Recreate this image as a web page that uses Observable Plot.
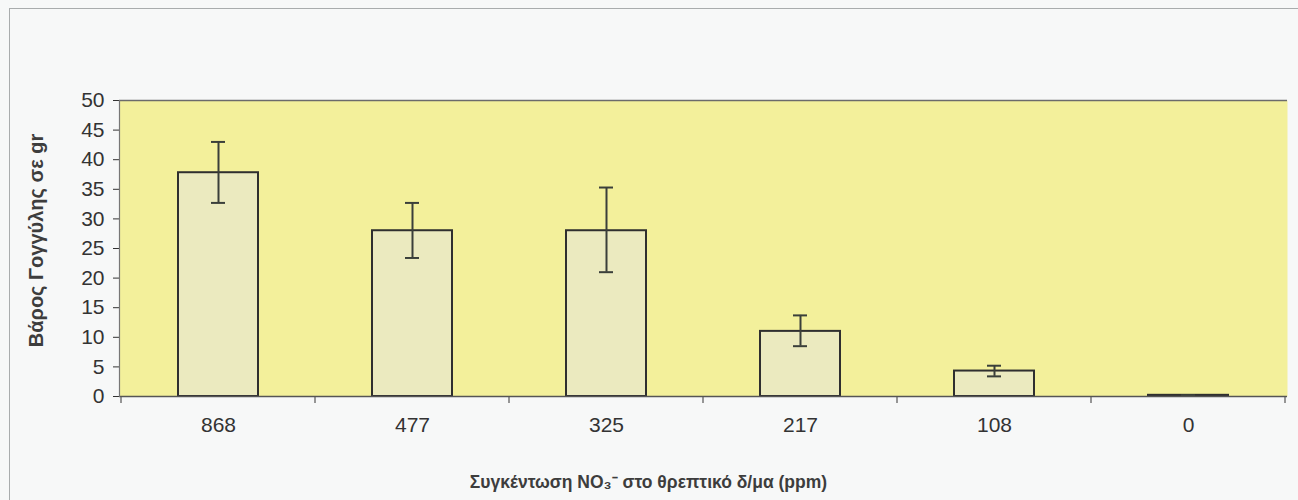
<!DOCTYPE html>
<html>
<head>
<meta charset="utf-8">
<script src="https://cdn.jsdelivr.net/npm/d3@7"></script>
<script src="https://cdn.jsdelivr.net/npm/@observablehq/plot@0.6"></script>
<style>
  html, body { margin: 0; padding: 0; background: #f7f8f8; }
  #wrap { position: relative; width: 1298px; height: 500px; overflow: hidden; }
  #edge { position: absolute; left: 9px; top: 8px; right: -2px; bottom: -2px;
          border-left: 1.5px solid #a9acad; border-top: 1.5px solid #a9acad; pointer-events: none; }
  #chart svg { display: block; }
</style>
</head>
<body>
<div id="wrap"><div id="chart"></div><div id="edge"></div></div>
<script>
// NO3 concentration in the nutrient solution (ppm)
const concentrations = ["868", "477", "325", "217", "108", "0"];
// mean bulb weight (g)
const meanWeight = [37.8, 28.0, 28.0, 11.0, 4.3, 0.2];
// error bar ends (g)
const lowerEnd = [32.7, 23.4, 21.0, 8.5, 3.4, 0.2];
const upperEnd = [43.0, 32.7, 35.3, 13.7, 5.2, 0.2];
// y-axis tick values
const yTicks = [0, 5, 10, 15, 20, 25, 30, 35, 40, 45, 50];

const yLabel = "Βάρος Γογγύλης σε gr";
const xLabel = "Συγκέντωση NO₃⁻ στο θρεπτικό δ/μα (ppm)";

const rows = concentrations.map((c, i) => ({
  c, mean: meanWeight[i], lo: lowerEnd[i], hi: upperEnd[i]
}));

// tick marks on the category axis sit between the categories
function boundaryTicks(index, scales, values, dimensions) {
  const x = scales.x;
  const bw = x.bandwidth ? x.bandwidth() : 0;
  const step = x(concentrations[1]) - x(concentrations[0]);
  const centers = concentrations.map(c => x(c) + bw / 2);
  const edges = centers.map(c => c - step / 2).concat([centers[centers.length - 1] + step / 2]);
  const y0 = dimensions.height - dimensions.marginBottom;
  const g = d3.create("svg:g").attr("stroke", "#555").attr("stroke-width", 1.2);
  g.selectAll("line").data(edges).join("line")
    .attr("x1", d => d).attr("x2", d => d)
    .attr("y1", y0).attr("y2", y0 + 7);
  return g.node();
}

const chart = Plot.plot({
  width: 1298,
  height: 500,
  marginTop: 100,
  marginBottom: 104,
  marginLeft: 119,
  marginRight: 11,
  style: {
    background: "transparent",
    fontFamily: "'Liberation Sans', Arial, sans-serif",
    fontSize: "21px",
    color: "#333"
  },
  x: {
    type: "band",
    domain: concentrations,
    paddingInner: 0.59,
    paddingOuter: 0.295,
    tickSize: 0,
    tickPadding: 21,
    label: null
  },
  y: {
    domain: [0, 50],
    ticks: yTicks,
    tickSize: 6,
    tickPadding: 9,
    label: null
  },
  marks: [
    Plot.frame({fill: "#f3f09b", stroke: "none"}),
    Plot.barY(rows, {x: "c", y: "mean", fill: "#ebeabf", stroke: "#2f2f2f", strokeWidth: 2}),
    Plot.ruleX(rows, {x: "c", y1: "lo", y2: "hi", stroke: "#3a3f3a", strokeWidth: 2}),
    Plot.tickY(rows, {x: "c", y: "hi", stroke: "#3a3f3a", strokeWidth: 2, inset: 33}),
    Plot.tickY(rows, {x: "c", y: "lo", stroke: "#3a3f3a", strokeWidth: 2, inset: 33}),
    // plot area edges: top, right, left in grey, baseline dark
    Plot.ruleY([50], {stroke: "#6b6b6b", strokeWidth: 1.5}),
    Plot.ruleX([0], {frameAnchor: "right", stroke: "#8a8a8a", strokeWidth: 1.5}),
    Plot.ruleY([0], {stroke: "#555", strokeWidth: 1.5}),
    Plot.frame({stroke: "#777", strokeWidth: 1.2, fill: "none", anchor: "left"}),
    boundaryTicks,
    Plot.text([yLabel], {
      frameAnchor: "left", rotate: -90, dx: -83, dy: -8,
      textAnchor: "middle", lineAnchor: "middle",
      fontSize: 20, fontWeight: "bold", fill: "#3d3d3d"
    }),
    Plot.text([xLabel], {
      frameAnchor: "bottom", dx: -55, dy: 86,
      textAnchor: "middle", lineAnchor: "middle",
      fontSize: 17.5, fontWeight: "bold", fill: "#3d3d3d"
    })
  ]
});

document.getElementById("chart").appendChild(chart);
</script>
</body>
</html>
